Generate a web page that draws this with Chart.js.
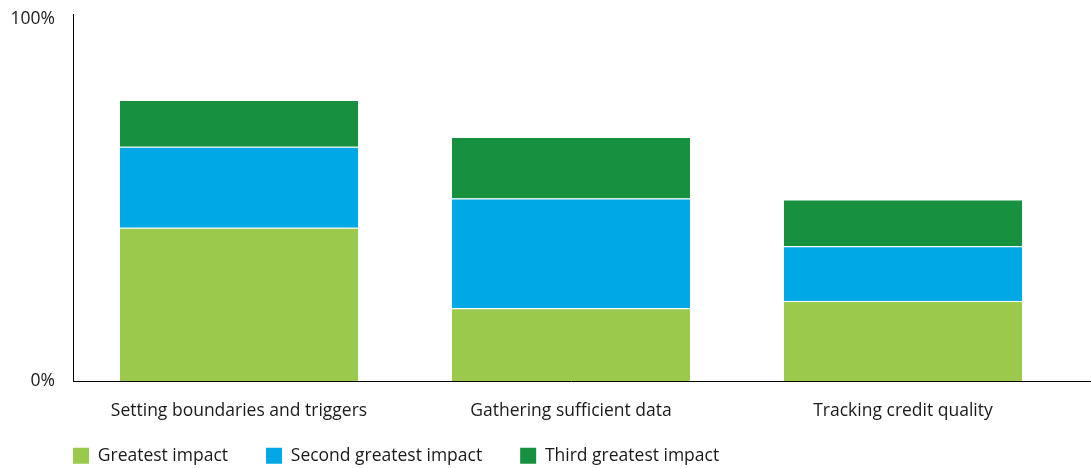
<!DOCTYPE html>
<html>
<head>
<meta charset="utf-8">
<script src="https://cdn.jsdelivr.net/npm/chart.js@4.4.1/dist/chart.umd.min.js"></script>
<style>
  html, body { margin: 0; padding: 0; background: #fff; }
  #wrap { width: 1091px; height: 468px; position: relative; }
</style>
</head>
<body>
<div id="wrap"><canvas id="impactChart"></canvas></div>
<script>
// categories and series (percent of respondents)
const categories = ['Setting boundaries and triggers', 'Gathering sufficient data', 'Tracking credit quality'];
const greatestImpact = [42.4, 20.1, 22.1];
const secondImpact = [22.4, 30.4, 15.2];
const thirdImpact = [12.9, 17.0, 12.9];
const yTicks = [0, 100];

const textColor = '#1a1a1a';
const fontFamily = '"Open Sans", "Noto Sans", sans-serif';
const fontSize = 17.5;

// legend box gets a fixed height, legend starts under the y axis,
// and the x axis line runs on to the canvas edge
const layoutTweaks = {
    id: 'layoutTweaks',
    afterInit(chart) {
        const lg = chart.legend;
        const fit = lg.fit.bind(lg);
        lg.fit = function () {
            fit();
            this.height = 48;
        };
    },
    afterLayout(chart) {
        const lg = chart.legend;
        const pad = lg.options.labels.padding;
        lg.left = chart.chartArea.left - pad;
        lg.top = lg.bottom - 21 - pad;
    },
    afterDraw(chart) {
        const ctx = chart.ctx;
        const a = chart.chartArea;
        ctx.save();
        ctx.strokeStyle = '#000';
        ctx.lineWidth = 1;
        ctx.beginPath();
        ctx.moveTo(a.right, a.bottom + 0.5);
        ctx.lineTo(chart.width, a.bottom + 0.5);
        ctx.stroke();
        ctx.restore();
    }
};

var ctx = document.getElementById('impactChart').getContext('2d');

var impactChart = new Chart(ctx, {
    type: 'bar',
    data: {
        labels: categories,
        datasets: [{
            label: 'Greatest impact',
            data: greatestImpact,
            backgroundColor: '#9bc94b',
            borderColor: '#ffffff',
            borderWidth: { top: 1, left: 0, right: 0, bottom: 0 }
        }, {
            label: 'Second greatest impact',
            data: secondImpact,
            backgroundColor: '#00a8e6',
            borderColor: '#ffffff',
            borderWidth: { top: 1, left: 0, right: 0, bottom: 0 }
        }, {
            label: 'Third greatest impact',
            data: thirdImpact,
            backgroundColor: '#17903f',
            borderColor: '#ffffff',
            borderWidth: { top: 1, left: 0, right: 0, bottom: 0 }
        }]
    },
    options: {
        responsive: true,
        maintainAspectRatio: false,
        animation: false,
        events: [],
        layout: {
            padding: { top: 14, right: 22, bottom: 0, left: 0 }
        },
        datasets: {
            bar: {
                barPercentage: 0.717,
                categoryPercentage: 1,
                borderSkipped: false
            }
        },
        scales: {
            x: {
                stacked: true,
                afterFit: (scale) => {
                    scale.height = 39;
                },
                grid: { display: false, drawTicks: false },
                border: { display: true, color: '#000', width: 1 },
                ticks: {
                    color: textColor,
                    font: { family: fontFamily, size: fontSize },
                    padding: 20,
                    maxRotation: 0,
                    autoSkip: false
                }
            },
            y: {
                stacked: true,
                min: 0,
                max: 101.5,
                afterBuildTicks: (scale) => {
                    scale.ticks = yTicks.map(v => ({ value: v }));
                },
                afterFit: (scale) => {
                    scale.width = 73;
                    scale.paddingTop = 0;
                    scale.paddingBottom = 0;
                },
                grid: { display: false, drawTicks: false },
                border: { display: true, color: '#000', width: 1 },
                ticks: {
                    color: textColor,
                    font: { family: fontFamily, size: fontSize },
                    padding: 18,
                    callback: (v) => v + '%'
                }
            }
        },
        plugins: {
            tooltip: { enabled: false },
            legend: {
                position: 'bottom',
                align: 'start',
                labels: {
                    color: textColor,
                    font: { family: fontFamily, size: fontSize },
                    boxWidth: 16,
                    boxHeight: 16,
                    padding: 38,
                    generateLabels: (chart) => {
                        const items = Chart.defaults.plugins.legend.labels.generateLabels(chart);
                        items.forEach(it => { it.lineWidth = 0; });
                        return items;
                    }
                }
            }
        }
    },
    plugins: [layoutTweaks]
});
</script>
</body>
</html>
